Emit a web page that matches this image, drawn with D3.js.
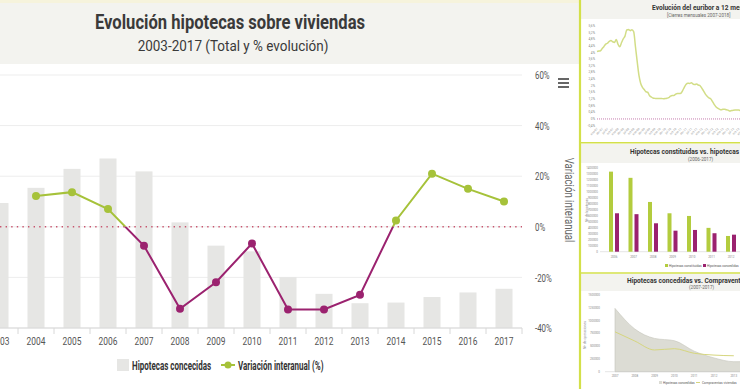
<!DOCTYPE html>
<html>
<head>
<meta charset="utf-8">
<script src="https://cdn.jsdelivr.net/npm/d3@7"></script>
<style>
  body { margin: 0; background: #fff; overflow: hidden; }
  svg { display: block; font-family: Roboto, sans-serif; }
</style>
</head>
<body>
<svg width="740" height="389"></svg>
<script>
// ---- main chart data ----
const years = [2003, 2004, 2005, 2006, 2007, 2008, 2009, 2010, 2011, 2012, 2013, 2014, 2015, 2016, 2017];
const hipotecas = [988000, 1108000, 1258000, 1340000, 1238000, 835000, 651000, 606000, 402000, 270000, 196000, 201000, 245000, 281000, 310000];
const variacion = [null, 12.2, 13.7, 7.0, -7.5, -32.4, -21.9, -6.6, -32.7, -32.7, -26.9, 2.5, 21.0, 15.0, 10.0];
const pctTicks = [-40, -20, 0, 20, 40, 60];

// ---- thumbnail 1: euribor 12m, monthly closes from Jan 2007 ----
const euribor = [4.06, 4.09, 4.11, 4.25, 4.37, 4.51, 4.56, 4.67, 4.73, 4.65, 4.61, 4.79,
  4.50, 4.35, 4.59, 4.82, 4.99, 5.36, 5.39, 5.32, 5.38, 5.25, 4.35, 3.45,
  2.62, 2.14, 1.91, 1.77, 1.64, 1.61, 1.41, 1.33, 1.26, 1.24, 1.23, 1.24,
  1.23, 1.23, 1.22, 1.23, 1.25, 1.28, 1.37, 1.42, 1.42, 1.50, 1.54, 1.53,
  1.55, 1.71, 1.92, 2.09, 2.15, 2.14, 2.18, 2.10, 2.07, 2.11, 2.04, 2.00,
  1.84, 1.68, 1.50, 1.37, 1.27, 1.22, 1.06, 0.88, 0.74, 0.65, 0.59, 0.55,
  0.58, 0.59, 0.55, 0.53, 0.48, 0.51, 0.53, 0.54, 0.54, 0.54, 0.51, 0.54];
const euriborTicks = [-0.4, 0, 0.4, 0.8, 1.2, 1.6, 2, 2.4, 2.8, 3.2, 3.6, 4, 4.4, 4.8, 5.2, 5.6];
const meses = ['ene', 'feb', 'mar', 'abr', 'may', 'jun', 'jul', 'ago', 'sep', 'oct', 'nov', 'dic'];

// ---- thumbnail 2: constituidas vs concedidas ----
const anios2 = [2006, 2007, 2008, 2009, 2010, 2011, 2012, 2013, 2014, 2015, 2016, 2017];
const constituidas = [1344000, 1240000, 835000, 645000, 600000, 400000, 264000, 185000];
const concedidas2 = [645000, 630000, 477000, 353000, 365000, 310000, 286000];
const ticks2 = [0, 100000, 200000, 300000, 400000, 500000, 600000, 700000, 800000, 900000, 1000000, 1100000, 1200000, 1300000, 1400000];

// ---- thumbnail 3: concedidas vs compraventas ----
const anios3 = [2007, 2008, 2009, 2010, 2011, 2012, 2013, 2014, 2015, 2016, 2017];
const concedidas3 = [1238000, 835000, 651000, 606000, 402000, 270000, 196000, 201000, 245000, 281000, 310000];
const compraventas = [780000, 600000, 425000, 450000, 360000, 325000, 312000];
const ticks3 = [0, 250000, 500000, 750000, 1000000, 1250000, 1500000];

const green = '#a6c23a';
const purple = '#9b226f';
const border = '#d3e04a';
const band = '#f3f3ef';

const svg = d3.select('svg');

// the original uses a condensed face; squeeze Roboto horizontally around its anchor
function squeeze(sel, k) {
  sel.each(function () {
    const t = d3.select(this);
    const px = +t.attr('x') || 0, py = +t.attr('y') || 0;
    const prev = t.attr('transform') || '';
    t.attr('x', 0).attr('y', 0)
      .attr('transform', `${prev} translate(${px},${py}) scale(${k},1)`);
  });
}

// ================= MAIN CHART =================
svg.append('rect').attr('x', 0).attr('y', 0).attr('width', 579).attr('height', 3).attr('fill', '#f6f3dc');
svg.append('rect').attr('x', 0).attr('y', 3).attr('width', 579).attr('height', 61).attr('fill', band);

svg.append('text')
  .attr('x', 230).attr('y', 29)
  .attr('text-anchor', 'middle')
  .attr('font-size', 20).attr('font-weight', 'bold').attr('fill', '#3a3a3a')
  .text('Evolución hipotecas sobre viviendas')
  .call(squeeze, 0.83);
svg.append('text')
  .attr('x', 233).attr('y', 51)
  .attr('text-anchor', 'middle')
  .attr('font-size', 15).attr('fill', '#3a3a3a')
  .text('2003-2017 (Total y % evolución)')
  .call(squeeze, 0.9);

const x = d3.scaleBand().domain(years).range([-18, 522]);
const yBar = d3.scaleLinear().domain([0, 2000000]).range([328, 75]);
const yPct = d3.scaleLinear().domain([-40, 60]).range([328, 75]);
const cx = d => x(d) + x.bandwidth() / 2;

const plot = svg.append('g');

// gridlines
plot.selectAll('.grid').data(pctTicks).join('line')
  .attr('x1', 0).attr('x2', 522)
  .attr('y1', d => yPct(d)).attr('y2', d => yPct(d))
  .attr('stroke', '#ededed');

// bars
const barW = 17;
plot.selectAll('.bar').data(years).join('rect')
  .attr('x', d => cx(d) - barW / 2)
  .attr('width', barW)
  .attr('y', (d, i) => yBar(hipotecas[i]))
  .attr('height', (d, i) => yBar(0) - yBar(hipotecas[i]))
  .attr('fill', '#e6e6e4');

// zero plot line (dotted)
plot.append('line')
  .attr('x1', 0).attr('x2', 522)
  .attr('y1', yPct(0)).attr('y2', yPct(0))
  .attr('stroke', '#c8556e').attr('stroke-width', 1.4)
  .attr('stroke-dasharray', '1.4,4.2');

// x axis
const xAxis = plot.append('g').attr('transform', 'translate(0,328)');
xAxis.append('line').attr('x1', -18).attr('x2', 522).attr('stroke', '#d8d8d8');
xAxis.selectAll('.tk').data(years.concat(['end'])).join('line')
  .attr('x1', d => d === 'end' ? 522 : x(d)).attr('x2', d => d === 'end' ? 522 : x(d))
  .attr('y1', 0).attr('y2', 6).attr('stroke', '#d8d8d8');
xAxis.selectAll('.lb').data(years).join('text')
  .attr('x', d => cx(d)).attr('y', 17)
  .attr('text-anchor', 'middle')
  .attr('font-size', 10.5).attr('fill', '#555')
  .text(d => d)
  .call(squeeze, 0.8);

// right axis
const yAxis = svg.append('g')
  .attr('transform', 'translate(535,0)')
  .call(d3.axisRight(yPct).tickValues(pctTicks).tickSize(0).tickFormat(d => d + '%'));
yAxis.select('.domain').remove();
yAxis.selectAll('text')
  .attr('x', 0).attr('dy', '0.35em')
  .attr('font-size', 10.5).attr('fill', '#555')
  .attr('font-family', 'Roboto, sans-serif')
  .call(squeeze, 0.75);

svg.append('text')
  .attr('transform', 'translate(565,200) rotate(90)')
  .attr('text-anchor', 'middle')
  .attr('font-size', 12).attr('fill', '#666')
  .text('Variación interanual')
  .call(squeeze, 0.8);

// menu icon
svg.selectAll('.menu').data([0, 1, 2]).join('rect')
  .attr('x', 558).attr('y', d => 78 + d * 4).attr('width', 11).attr('height', 2)
  .attr('fill', '#666');

// line with zones (green >= 0, purple < 0)
const pts = years.map((d, i) => ({ year: d, v: variacion[i] })).filter(d => d.v !== null);
const line = d3.line().x(d => cx(d.year)).y(d => yPct(d.v));
const defs = svg.append('defs');
defs.append('clipPath').attr('id', 'above')
  .append('rect').attr('x', -20).attr('y', 0).attr('width', 560).attr('height', yPct(0));
defs.append('clipPath').attr('id', 'below')
  .append('rect').attr('x', -20).attr('y', yPct(0)).attr('width', 560).attr('height', 400);
plot.append('path').datum(pts).attr('d', line)
  .attr('fill', 'none').attr('stroke', green).attr('stroke-width', 2)
  .attr('clip-path', 'url(#above)');
plot.append('path').datum(pts).attr('d', line)
  .attr('fill', 'none').attr('stroke', purple).attr('stroke-width', 2)
  .attr('clip-path', 'url(#below)');
plot.selectAll('.pt').data(pts).join('circle')
  .attr('cx', d => cx(d.year)).attr('cy', d => yPct(d.v)).attr('r', 4)
  .attr('fill', d => d.v >= 0 ? green : purple);

// legend
const lg = svg.append('g');
lg.append('rect').attr('x', 117).attr('y', 359).attr('width', 12).attr('height', 12).attr('fill', '#e6e6e4');
lg.append('text').attr('x', 132).attr('y', 370)
  .attr('font-size', 12.5).attr('font-weight', 'bold').attr('fill', '#333')
  .text('Hipotecas concecidas')
  .call(squeeze, 0.64);
lg.append('line').attr('x1', 221).attr('x2', 235).attr('y1', 365).attr('y2', 365)
  .attr('stroke', green).attr('stroke-width', 2);
lg.append('circle').attr('cx', 228).attr('cy', 365).attr('r', 3.5).attr('fill', green);
lg.append('text').attr('x', 238).attr('y', 370)
  .attr('font-size', 12.5).attr('font-weight', 'bold').attr('fill', '#333')
  .text('Variación interanual (%)')
  .call(squeeze, 0.64);

// ================= SIDE PANELS =================
const side = svg.append('g').attr('font-family', 'Roboto, sans-serif');
side.append('rect').attr('x', 581).attr('y', 0).attr('width', 160).attr('height', 19).attr('fill', band);
side.append('rect').attr('x', 581).attr('y', 144).attr('width', 160).attr('height', 19).attr('fill', band);
side.append('rect').attr('x', 581).attr('y', 274).attr('width', 160).attr('height', 17).attr('fill', band);

function panelTitle(t, s, tx, ty, sx, sy) {
  side.append('text').attr('x', tx).attr('y', ty)
    .attr('font-size', 6.6).attr('font-weight', 'bold').attr('fill', '#333').text(t);
  side.append('text').attr('x', sx).attr('y', sy)
    .attr('font-size', 4.6).attr('fill', '#666').text(s);
}
panelTitle('Evolución del euribor a 12 meses', '[Cierres mensuales 2007-2018]', 652, 10, 667, 17);
panelTitle('Hipotecas constituidas vs. hipotecas concedidas', '(2006-2017)', 630, 154, 688, 161);
panelTitle('Hipotecas concedidas vs. Compraventas de viviendas', '(2007-2017)', 627, 283, 689, 289);

// --- panel 1: euribor ---
const ex = d3.scaleLinear().domain([0, 143]).range([597, 847]);
const ey = d3.scaleLinear().domain([-0.4, 5.6]).range([125.6, 26]);
side.selectAll('.eyl').data(euriborTicks).join('text')
  .attr('x', 595).attr('y', d => ey(d) + 1)
  .attr('text-anchor', 'end').attr('font-size', 3.2).attr('fill', '#888')
  .text(d => String(d).replace('.', ',') + '%');
side.append('line')
  .attr('x1', 597).attr('x2', 741).attr('y1', ey(0)).attr('y2', ey(0))
  .attr('stroke', '#b04a8e').attr('stroke-width', 0.9).attr('stroke-dasharray', '0.8,1.2');
side.append('path').datum(euribor)
  .attr('d', d3.line().x((d, i) => ex(i)).y(d => ey(d)).curve(d3.curveMonotoneX))
  .attr('fill', 'none').attr('stroke', '#d2dd86').attr('stroke-width', 1.5);
const eLabels = d3.range(0, 144, 3);
side.selectAll('.exl').data(eLabels).join('text')
  .attr('transform', d => `translate(${ex(d) + 1},${129}) rotate(-45)`)
  .attr('text-anchor', 'end').attr('font-size', 3).attr('fill', '#999')
  .text(d => meses[d % 12] + '-' + String(2007 + Math.floor(d / 12)).slice(2));

// --- panel 2: bars ---
const bx = d3.scaleBand().domain(anios2).range([604.25, 838.25]);
const by = d3.scaleLinear().domain([0, 1400000]).range([251.7, 168.3]);
const bc = d => bx(d) + bx.bandwidth() / 2;
side.selectAll('.byl').data(ticks2).join('text')
  .attr('x', 598).attr('y', d => by(d) + 1)
  .attr('text-anchor', 'end').attr('font-size', 3).attr('fill', '#888')
  .text(d => d);
side.append('text').attr('transform', 'translate(588,210) rotate(-90)')
  .attr('text-anchor', 'middle').attr('font-size', 3.4).attr('fill', '#888').text('Nº de hipotecas');
side.append('line').attr('x1', 600).attr('x2', 741).attr('y1', 251.7).attr('y2', 251.7).attr('stroke', '#ccc').attr('stroke-width', 0.5);
side.selectAll('.bg').data(constituidas).join('rect')
  .attr('x', (d, i) => bc(anios2[i]) - 5).attr('width', 4)
  .attr('y', d => by(d)).attr('height', d => by(0) - by(d))
  .attr('fill', '#b3cc3e');
side.selectAll('.bp').data(concedidas2).join('rect')
  .attr('x', (d, i) => bc(anios2[i]) + 1).attr('width', 4)
  .attr('y', d => by(d)).attr('height', d => by(0) - by(d))
  .attr('fill', purple);
side.selectAll('.bxl').data(anios2).join('text')
  .attr('x', d => bc(d)).attr('y', 257.5)
  .attr('text-anchor', 'middle').attr('font-size', 3).attr('fill', '#888').text(d => d);
side.append('rect').attr('x', 665).attr('y', 264).attr('width', 3).attr('height', 3).attr('fill', '#b3cc3e');
side.append('text').attr('x', 669).attr('y', 266.8).attr('font-size', 3.2).attr('fill', '#555').text('Hipotecas constituidas');
side.append('rect').attr('x', 703).attr('y', 264).attr('width', 3).attr('height', 3).attr('fill', purple);
side.append('text').attr('x', 707).attr('y', 266.8).attr('font-size', 3.2).attr('fill', '#555').text('Hipotecas concedidas');

// --- panel 3: area + line ---
const ax = d3.scalePoint().domain(anios3).range([615, 813]);
const ay = d3.scaleLinear().domain([0, 1500000]).range([371.7, 295]);
side.selectAll('.ayl').data(ticks3).join('text')
  .attr('x', 600).attr('y', d => ay(d) + 1)
  .attr('text-anchor', 'end').attr('font-size', 3).attr('fill', '#888')
  .text(d => d);
side.append('text').attr('transform', 'translate(586,335) rotate(-90)')
  .attr('text-anchor', 'middle').attr('font-size', 3.4).attr('fill', '#888').text('Nº de operaciones');
side.append('path').datum(concedidas3)
  .attr('d', d3.area().x((d, i) => ax(anios3[i])).y0(ay(0)).y1(d => ay(d)).curve(d3.curveMonotoneX))
  .attr('fill', '#dcdcd4').attr('stroke', '#c4c4ba').attr('stroke-width', 0.6);
side.append('path').datum(compraventas)
  .attr('d', d3.line().x((d, i) => ax(anios3[i])).y(d => ay(d)).curve(d3.curveMonotoneX))
  .attr('fill', 'none').attr('stroke', '#d6d67e').attr('stroke-width', 1);
side.append('line').attr('x1', 605).attr('x2', 741).attr('y1', 371.7).attr('y2', 371.7).attr('stroke', '#ccc').attr('stroke-width', 0.5);
side.selectAll('.axl').data(anios3).join('text')
  .attr('x', d => ax(d)).attr('y', 377)
  .attr('text-anchor', 'middle').attr('font-size', 3).attr('fill', '#888').text(d => d);
side.append('rect').attr('x', 659).attr('y', 381).attr('width', 3).attr('height', 3).attr('fill', '#dcdcd4');
side.append('text').attr('x', 663).attr('y', 383.8).attr('font-size', 3.2).attr('fill', '#555').text('Hipotecas concedidas');
side.append('line').attr('x1', 696).attr('x2', 700).attr('y1', 382.5).attr('y2', 382.5).attr('stroke', '#d6d67e');
side.append('text').attr('x', 702).attr('y', 383.8).attr('font-size', 3.2).attr('fill', '#555').text('Compraventas viviendas');

// panel borders
svg.append('line').attr('x1', 580).attr('x2', 580).attr('y1', 0).attr('y2', 389).attr('stroke', border).attr('stroke-width', 2.2);
svg.append('line').attr('x1', 580).attr('x2', 741).attr('y1', 142.8).attr('y2', 142.8).attr('stroke', border).attr('stroke-width', 1.6);
svg.append('line').attr('x1', 580).attr('x2', 741).attr('y1', 273).attr('y2', 273).attr('stroke', border).attr('stroke-width', 1.6);
</script>
</body>
</html>
